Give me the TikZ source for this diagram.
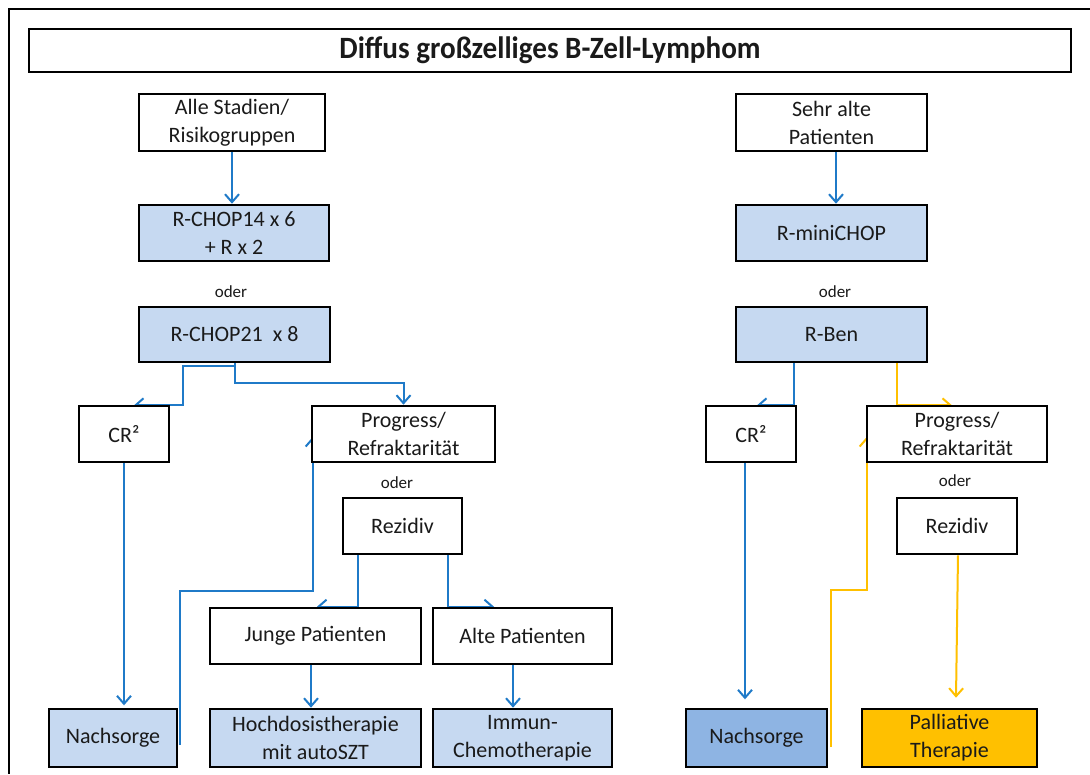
\documentclass[tikz,border=0pt]{standalone}
\usepackage{fontspec}
\setmainfont{Carlito}
\usetikzlibrary{arrows.meta,backgrounds}
\definecolor{lblue}{HTML}{C6D9F1}
\definecolor{mblue}{HTML}{8EB4E3}
\definecolor{gold}{HTML}{FFC000}
\definecolor{lineblue}{HTML}{1F7AC8}
\definecolor{txt}{HTML}{1A1A1A}
\begin{document}
\begin{tikzpicture}[x=1pt,y=-1pt,
  box/.style={draw=black, line width=2.6pt, align=center, inner sep=0pt, fill=white,
    font=\fontsize{22}{28}\selectfont, text=txt, minimum height=56pt},
  bluebox/.style={box, fill=lblue},
  odertext/.style={font=\fontsize{17}{20}\selectfont, text=txt, inner sep=0pt},
  conn/.style={draw=lineblue, line width=2pt, -{Straight Barb[length=8pt,width=14pt]}},
  yconn/.style={draw=gold, line width=2pt, -{Straight Barb[length=8pt,width=14pt]}}
]
\useasboundingbox (0,0) rectangle (1090,774);
\draw[line width=2pt] (1090,9) -- (9,9) -- (9,774);

% title
\node[draw=black, line width=2.6pt, minimum width=1042pt, minimum height=43pt, inner sep=0pt,
  font=\fontsize{31}{33}\selectfont\bfseries, text=txt] (title) at (550,50.5)
  {\scalebox{0.94}[1]{Diffus großzelliges B-Zell-Lymphom}};

% left column
\node[box, minimum width=186pt, minimum height=57pt] (alle) at (232,122.5) {Alle Stadien/\\Risikogruppen};
\node[bluebox, minimum width=190pt] (rchop14) at (234,233) {R-CHOP14 x 6\\+ R x 2};
\node[odertext] (oder1) at (231,292) {oder};
\node[bluebox, minimum width=191pt, minimum height=55pt] (rchop21) at (234.5,334.5) {R-CHOP21~ x 8};
\node[box, minimum width=90pt] (cr1) at (124,434) {CR²};
\node[box, minimum width=183pt] (prog1) at (403.5,434) {Progress/\\Refraktarität};
\node[odertext] (oder2) at (397,483) {oder};
\node[box, minimum width=119pt] (rez1) at (402.5,526) {Rezidiv};
\node[box, minimum width=211pt] (junge) at (315.5,636) {Junge Patienten};
\node[box, minimum width=179pt] (alte) at (522.5,636) {Alte Patienten};
\node[bluebox, minimum width=128pt, minimum height=58pt] (nach1) at (113,738) {Nachsorge};
\node[bluebox, minimum width=211pt, minimum height=58pt] (hoch) at (315.5,738) {Hochdosistherapie\\mit autoSZT};
\node[bluebox, minimum width=179pt, minimum height=58pt] (immun) at (522.5,738) {Immun-\\Chemotherapie};

% right column
\node[box, minimum width=191pt, minimum height=57pt] (sehr) at (831.5,122.5) {Sehr alte\\Patienten};
\node[bluebox, minimum width=191pt] (mini) at (831.5,233) {R-miniCHOP};
\node[odertext] (oder3) at (835,292) {oder};
\node[bluebox, minimum width=191pt, minimum height=55pt] (rben) at (831.5,334.5) {R-Ben};
\node[box, minimum width=90pt] (cr2) at (751,434) {CR²};
\node[box, minimum width=180pt] (prog2) at (957,434) {Progress/\\Refraktarität};
\node[odertext] (oder4) at (955,481) {oder};
\node[box, minimum width=120pt] (rez2) at (957,526) {Rezidiv};
\node[box, fill=mblue, minimum width=141pt, minimum height=58pt] (nach2) at (756.5,738) {Nachsorge};
\node[box, fill=gold, minimum width=175pt, minimum height=58pt] (pall) at (949.5,738) {Palliative\\Therapie};

\begin{scope}[on background layer]
\fill[white] (0,0) rectangle (1090,774);
% left connectors
\draw[conn] (alle.south) -- (rchop14.north -| alle.south);
\draw[conn] ([xshift=0.5pt]rchop21.south) -- ++(0,20) -| (prog1.north);
\draw[conn] ([shift={(0.5,3)}]rchop21.south) -- ([shift={(-51.5,3)}]rchop21.south) -- ++(0,39) -- ++(-49,0);
\draw[conn] (cr1.south) -- ++(0,242);
\draw[conn] ([shift={(2,7)}]nach1.east) -- ++(0,-154) -| ([shift={(2,3)}]prog1.west);
\draw[conn] ([xshift=-44.5pt]rez1.south) |- ([xshift=1.5pt]junge.north);
\draw[conn] ([xshift=45.5pt]rez1.south) |- ([xshift=-28.5pt]alte.north);
\draw[conn] ([xshift=-4.5pt]junge.south) -- ([xshift=-4.5pt]hoch.north);
\draw[conn] ([xshift=-9.5pt]alte.south) -- ([xshift=-9.5pt]immun.north);
% right connectors
\draw[conn] ([xshift=4.5pt]sehr.south) -- ([xshift=4.5pt]mini.north);
\draw[conn] ([xshift=-37.5pt]rben.south) -- ++(0,42) -- ++(-37,0);
\draw[yconn] ([xshift=65.5pt]rben.south) -- ++(0,42) -- ++(55,0);
\draw[conn] ([xshift=-6pt]cr2.south) -- ++(0,236);
\draw[yconn] ([shift={(3,9)}]nach2.east) -- ++(0,-157) -| ([shift={(1,3)}]prog2.west);
\draw[yconn] ([xshift=1pt]rez2.south) -- ([xshift=6.5pt,yshift=10pt]pall.north);
\end{scope}
\end{tikzpicture}
\end{document}
